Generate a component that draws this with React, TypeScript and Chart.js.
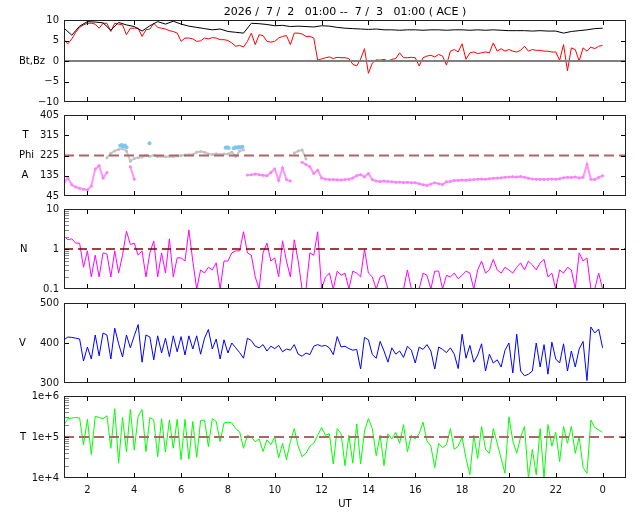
import { useEffect, useRef } from 'react';
import { Chart, registerables } from 'chart.js';

Chart.register(...registerables);
Chart.defaults.font.family = '"DejaVu Sans", sans-serif';

// time axis: hours from 01:00 (day 1) to 01:00 (day 2)
const HOUR_START = 1;
const HOUR_END = 25;
const hourTicks = [2, 4, 6, 8, 10, 12, 14, 16, 18, 20, 22, 24];
const STEP_10MIN = 1 / 6;
const STEP_20MIN = 1 / 3;

// Bt (nT), every 20 min from 01:00
const bt = [
  8.0, 6.3, 8.5, 9.6, 9.5, 9.3, 7.5, 9.4, 8.8, 8.4, 7.3, 8.6,
  9.6, 9.0, 9.7, 9.0, 8.5, 8.2, 7.9, 7.6, 7.8, 7.2, 7.0, 6.8,
  9.2, 9.1, 8.9, 8.6, 8.7, 8.4, 8.5, 8.4, 8.3, 8.6, 8.5, 8.2,
  8.0, 7.9, 7.8, 7.7, 7.8, 7.6, 7.6, 7.5, 7.6, 7.6, 7.5, 7.6,
  7.6, 7.5, 7.6, 7.6, 7.5, 7.6, 7.5, 7.6, 7.5, 7.4, 7.4, 7.4,
  7.3, 7.4, 7.3, 7.3, 6.8, 7.2, 7.4, 7.6, 7.9, 8.0,
];

// Bz (nT), every 10 min from 01:00
const bz = [
  5.2, 4.2, 5.4, 7.0, 8.2, 8.8,
  9.2, 9.2, 9.0, 8.0, 9.2, 9.2,
  7.2, 9.2, 9.0, 8.8, 6.4, 8.0,
  8.0, 8.0, 6.0, 7.6, 7.8, 9.2,
  8.2, 8.0, 7.8, 7.4, 7.2, 6.8,
  4.8, 5.6, 5.6, 5.4, 4.8, 4.9,
  5.6, 5.4, 5.7, 5.6, 5.2, 5.2,
  5.0, 4.4, 3.6, 3.8, 3.4, 4.8,
  6.8, 4.0, 6.4, 6.2, 4.8, 4.6,
  4.8, 5.6, 6.0, 6.2, 4.0, 6.8,
  6.8, 6.6, 6.0, 6.0, 5.6, 0.2,
  0.5, 0.8, 1.0, 0.6, 0.9, 0.8,
  0.8, 0.6, -0.8, -1.2, 0.5, 3.0,
  -3.0, -0.5, 0.3, 0.2, 0.4, 0.0,
  0.4, 0.6, 2.0, 0.8, 0.8, 0.9,
  0.8, -1.2, 0.8, 1.2, 1.4, 1.0,
  1.6, 1.2, -1.0, 2.4, 2.8, 2.2,
  4.2, 0.4, 2.0, 2.2, 1.8, 2.0,
  2.2, 2.0, 4.4, 2.4, 3.0, 2.4,
  2.8, 2.4, 2.2, 2.6, 3.6, 2.4,
  2.8, 2.6, 2.6, 2.4, 2.4, 2.2,
  2.2, 0.2, 4.0, -2.4, 3.2, 2.8,
  0.0, 3.2, 2.4, 3.4, 3.0, 3.6,
  3.8,
];

// A angle (deg), every 10 min from 01:00
const angleA = [
  105, 125, 95, 85, 80, 75,
  72, 90, 165, 180, 125, 150,
  null, null, null, null, null, 175,
  120, null, null, null, null, null,
  null, null, null, null, null, null,
  null, null, null, null, null, null,
  null, null, null, null, null, null,
  null, null, null, null, null, 138,
  140, 143, 140, 137, 135, 150,
  165, 115, 170, 118, 112, null,
  null, 195, 185, 175, 145, 160,
  125, 120, 118, 118, 117, 116,
  118, 120, 125, 135, 140, 130,
  145, 118, 112, 110, 112, 110,
  108, 106, 107, 105, 106, 104,
  104, 100, 95, 92, 98, 104,
  100, 96, 108, 110, 114, 115,
  116, 115, 117, 118, 120, 121,
  120, 122, 124, 125, 126, 128,
  129, 131, 130, 132, 128, 124,
  121, 119, 120, 118, 120, 121,
  120, 122, 126, 128, 127, 130,
  125, 128, 185, 120, 118, 128,
  135,
];

// Phi (deg), every 10 min from 01:00
const phi = [
  null, null, null, null, null, null,
  null, null, null, null, null, 215,
  235, 245, 252, 255, 245, 200,
  212, 215, 218, 225, 222, 226,
  221, 222, 220, 222, 221, 223,
  225, 227, 228, 229, 240, 243,
  240, 232, 230, 233, 230, 232,
  232, 240, 222, 245, 250, null,
  null, null, null, null, null, null,
  null, null, null, null, null, 236,
  245, 250, 210,
];

// Theta-coloured samples (deg)
const blueTimes = [3.4, 3.47, 3.53, 3.6, 3.67, 4.65, 7.9, 7.97, 8.03, 8.25, 8.32, 8.4, 8.47, 8.55, 8.62];
const blueValues = [268, 272, 265, 270, 262, 279, 260, 262, 258, 257, 262, 260, 263, 261, 264];

// density N (/cc), every 10 min from 01:00
const density = [
  2.1, 1.7, 1.8, 1.4, 1.4, 0.35,
  0.9, 0.2, 0.7, 0.2, 0.8, 0.75,
  0.2, 0.9, 0.25, 0.7, 2.8, 1.3,
  1.4, 0.7, 0.9, 0.2, 0.8, 1.6,
  0.2, 0.8, 0.25, 1.8, 0.2, 0.6,
  0.6, 0.5, 3.0, 0.5, 0.1, 0.3,
  0.25, 0.35, 0.3, 0.45, 0.1, 0.5,
  0.5, 0.8, 0.9, 0.9, 2.7, 0.8,
  0.7, 0.2, 0.1, 0.8, 1.4, 0.5,
  0.6, 0.2, 1.6, 0.5, 0.2, 1.7,
  0.5, 0.1, 0.1, 0.8, 0.7, 2.7,
  0.1, 0.2, 0.25, 0.1, 0.28, 0.22,
  0.25, 0.1, 0.28, 0.25, 0.2, 1.0,
  0.25, 0.2, 0.1, 0.2, 0.22, 0.1,
  0.1, 0.1, 0.1, 0.1, 0.3, 0.1,
  0.1, 0.1, 0.25, 0.22, 0.1, 0.28,
  0.28, 0.1, 0.22, 0.2, 0.25, 0.18,
  0.22, 0.28, 0.25, 0.1, 0.3, 0.5,
  0.25, 0.3, 0.55, 0.3, 0.25, 0.35,
  0.3, 0.25, 0.35, 0.45, 0.3, 0.5,
  0.4, 0.3, 0.45, 0.55, 0.2, 0.25,
  0.1, 0.3, 0.25, 0.35, 0.3, 0.1,
  0.8, 0.5, 0.6, 0.1, 0.1, 0.25,
  0.1,
];

// speed V (km/s), every 10 min from 01:00
const speed = [
  408, 415, 414, 412, 410, 355,
  390, 360, 420, 368, 425, 420,
  360, 437, 398, 365, 420, 388,
  418, 446, 352, 420, 415, 358,
  418, 375, 412, 366, 418, 378,
  416, 370, 418, 385, 418, 372,
  412, 434, 385, 410, 360, 408,
  375, 400, 388, 376, 362, 412,
  406, 392, 388, 396, 380, 392,
  386, 394, 378, 385, 382, 396,
  372, 367, 375, 371, 392, 396,
  392, 394, 388, 371, 416, 390,
  392, 386, 382, 384, 335, 414,
  408, 371, 362, 404, 380, 352,
  388, 372, 380, 364, 392, 382,
  350, 390, 384, 396, 380, 335,
  390, 384, 376, 388, 372, 336,
  422, 362, 394, 352, 370, 398,
  330, 372, 350, 358, 340, 382,
  400, 325, 422, 330, 318, 322,
  330, 400, 340, 396, 322, 402,
  360, 350, 398, 330, 380, 340,
  385, 404, 306, 440, 425, 435,
  388,
];

// temperature T (K), every 10 min from 01:00
const temperature = [
  2.0e5, 2.8e5, 2.9e5, 3.0e5, 2.9e5, 6.4e4,
  2.7e5, 3.7e4, 3.2e5, 3.0e5, 2.8e5, 3.3e5,
  5.3e4, 4.9e5, 2.3e4, 3.0e5, 4.4e4, 4.7e5,
  4.8e4, 3.2e5, 4.7e5, 4.4e4, 3.0e5, 2.6e5,
  3.3e4, 2.8e5, 4.3e4, 2.6e5, 5.3e4, 2.7e5,
  2.8e4, 2.7e5, 2.9e4, 2.4e5, 3.2e4, 2.5e5,
  2.6e5, 5.8e4, 2.8e5, 2.4e5, 7.7e4, 2.2e5,
  2.3e5, 2.2e5, 1.6e5, 1.34e5, 5.3e4, 1.1e5,
  1.0e5, 7.7e4, 9.0e4, 4.4e4, 8.5e4, 6.5e4,
  1.0e5, 3.1e4, 7.0e4, 2.8e4, 7.7e4, 1.6e5,
  6.0e4, 3.3e4, 4.0e4, 6.0e4, 7.0e4, 1.1e5,
  1.7e5, 1.1e5, 1.2e5, 2.2e4, 1.6e5, 1.2e5,
  2.0e4, 1.1e5, 2.3e4, 2.1e5, 2.2e4, 1.4e5,
  2.8e5, 1.6e5, 3.5e4, 1.1e5, 2.0e4, 1.2e5,
  9.0e4, 1.3e5, 7.0e4, 2.0e5, 4.4e4, 1.1e5,
  9.0e4, 1.2e5, 2.3e5, 8.0e4, 6.0e4, 1.8e4,
  7.0e4, 5.5e4, 6.5e4, 1.6e5, 5.0e4, 6.0e4,
  1.0e5, 3.0e4, 1.2e4, 1.1e5, 3.0e4, 1.8e5,
  5.0e4, 4.0e4, 1.6e5, 7.0e4, 3.0e4, 1.3e4,
  3.1e5, 8.0e4, 4.0e4, 1.0e5, 1.8e5, 1.0e4,
  5.0e4, 1.2e4, 1.6e5, 1.0e4, 2.0e5, 6.0e4,
  1.3e5, 2.5e4, 1.8e5, 7.0e4, 1.8e5, 4.0e4,
  1.0e5, 1.8e4, 1.3e4, 2.6e5, 1.7e5, 1.5e5,
  1.3e5,
];

const bTicks = [-10, -5, 0, 5, 10];
const bTickLabels = ['\u221210', '\u22125', '0', '5', '10'];
const angleTicks = [45, 135, 225, 315, 405];
const nTicks = [0.1, 1, 10];
const nTickLabels = ['0.1', '1', '10'];
const vTicks = [300, 400, 500];
const tTicks = [1e4, 1e5, 1e6];
const tTickLabels = ['1e+4', '1e+5', '1e+6'];

const TITLE = '2026 /  7 /  2   01:00 --  7 /  3   01:00 ( ACE )';

const pts = (values: (number | null)[], step: number) =>
  values.map((v, i) => ({ x: HOUR_START + i * step, y: v }));
const refLine = (v: number) => [{ x: HOUR_START, y: v }, { x: HOUR_END, y: v }];
const minorLog = (decades: number[]) =>
  decades.flatMap((d) => [2, 3, 4, 5, 6, 7, 8, 9].map((m) => m * d));

const decoPlugin = {
  id: 'deco',
  afterDatasetsDraw(chart: any, _args: any, opts: any) {
    const { ctx, chartArea: a } = chart;
    const x = chart.scales.x;
    const y = chart.scales.y;
    ctx.save();
    if (opts.minor) {
      ctx.strokeStyle = '#888';
      ctx.lineWidth = 1;
      ctx.beginPath();
      for (const v of opts.minor) {
        const py = Math.round(y.getPixelForValue(v)) + 0.5;
        ctx.moveTo(a.left, py);
        ctx.lineTo(a.left + 5, py);
      }
      ctx.stroke();
    }
    ctx.strokeStyle = '#000';
    ctx.lineWidth = 1;
    ctx.beginPath();
    for (const h of hourTicks) {
      const px = Math.round(x.getPixelForValue(h)) + 0.5;
      ctx.moveTo(px, a.top);
      ctx.lineTo(px, a.top + 5);
      ctx.moveTo(px, a.bottom);
      ctx.lineTo(px, a.bottom - 5);
    }
    for (const v of opts.inner) {
      const py = Math.round(y.getPixelForValue(v)) + 0.5;
      ctx.moveTo(a.left, py);
      ctx.lineTo(a.left + 5, py);
      ctx.moveTo(a.right, py);
      ctx.lineTo(a.right - 5, py);
    }
    ctx.stroke();
    ctx.strokeStyle = '#222';
    ctx.strokeRect(a.left + 0.5, a.top + 0.5, a.right - a.left - 1, a.bottom - a.top - 1);

    ctx.fillStyle = '#000';
    ctx.textBaseline = 'middle';
    ctx.textAlign = 'left';
    ctx.font = '10px "DejaVu Sans"';
    for (const l of opts.labels) {
      ctx.fillText(l.text, l.x, y.getPixelForValue(l.value));
    }
    ctx.textAlign = 'center';
    if (opts.title) {
      ctx.font = '11px "DejaVu Sans"';
      ctx.fillText(opts.title, (a.left + a.right) / 2, a.top - 8);
    }
    if (opts.xTitle) {
      ctx.font = '10px "DejaVu Sans"';
      ctx.fillText(opts.xTitle, (a.left + a.right) / 2, a.bottom + 26);
    }
    ctx.restore();
  },
};

interface PanelSpec {
  areaTop: number;
  areaHeight: number;
  padTop: number;
  padBottom: number;
  bottomAxis?: boolean;
  yType: 'linear' | 'logarithmic';
  yMin: number;
  yMax: number;
  yTicks: number[];
  yTickLabels?: string[];
  inner: number[];
  minor?: number[];
  labels: { text: string; value: number; x: number }[];
  title?: string;
  datasets: any[];
}

const tickFont = { family: '"DejaVu Sans"', size: 10 };

function makeConfig(p: PanelSpec): any {
  return {
    type: 'line',
    data: { datasets: p.datasets },
    plugins: [decoPlugin],
    options: {
      responsive: false,
      animation: false,
      events: [],
      layout: { padding: { top: p.padTop, bottom: p.bottomAxis ? 0 : p.padBottom, left: 0, right: 14 } },
      elements: { line: { tension: 0 } },
      plugins: {
        legend: { display: false },
        tooltip: { enabled: false },
        deco: { inner: p.inner, minor: p.minor, labels: p.labels, title: p.title, xTitle: p.bottomAxis ? 'UT' : '' },
      },
      scales: {
        x: {
          type: 'linear',
          min: HOUR_START,
          max: HOUR_END,
          display: !!p.bottomAxis,
          afterBuildTicks: (s: any) => {
            s.ticks = hourTicks.map((v) => ({ value: v }));
          },
          afterFit: (s: any) => {
            s.height = p.bottomAxis ? p.padBottom : 0;
          },
          ticks: {
            padding: 6,
            color: '#111',
            font: tickFont,
            maxRotation: 0,
            autoSkip: false,
            callback: (v: number) => String(v % 24),
          },
          grid: { display: false, drawTicks: false },
          border: { display: false },
        },
        y: {
          type: p.yType,
          min: p.yMin,
          max: p.yMax,
          afterBuildTicks: (s: any) => {
            s.ticks = p.yTicks.map((v) => ({ value: v }));
          },
          afterFit: (s: any) => {
            s.width = 64;
          },
          ticks: {
            padding: 5,
            color: '#111',
            font: tickFont,
            autoSkip: false,
            callback: (v: number, i: number) => (p.yTickLabels ? p.yTickLabels[i] : String(v)),
          },
          grid: { display: false, drawTicks: false },
          border: { display: false },
        },
      },
    },
  };
}

const thin = { pointRadius: 0, borderWidth: 1, spanGaps: false };

const panels: PanelSpec[] = [
  {
    areaTop: 20, areaHeight: 83, padTop: 20, padBottom: 10,
    yType: 'linear', yMin: -10, yMax: 10, yTicks: bTicks, yTickLabels: bTickLabels,
    inner: [-5, 0, 5],
    labels: [{ text: 'Bt,Bz', value: 0, x: 19 }],
    title: TITLE,
    datasets: [
      { data: refLine(0), borderColor: '#808080', borderWidth: 2, pointRadius: 0 },
      { data: pts(bt, STEP_20MIN), borderColor: '#000000', ...thin },
      { data: pts(bz, STEP_10MIN), borderColor: '#ff0000', ...thin },
    ],
  },
  {
    areaTop: 114, areaHeight: 83, padTop: 10, padBottom: 10,
    yType: 'linear', yMin: 45, yMax: 405, yTicks: angleTicks,
    inner: [135, 225, 315],
    labels: [
      { text: 'T', value: 315, x: 22.5 },
      { text: 'Phi', value: 225, x: 19 },
      { text: 'A', value: 135, x: 21.5 },
    ],
    datasets: [
      { data: refLine(225), borderColor: '#b06464', borderWidth: 2, borderDash: [10, 5], pointRadius: 0 },
      { data: blueTimes.map((t, i) => ({ x: t, y: blueValues[i] })), showLine: false, pointRadius: 2, pointBorderWidth: 0, pointBackgroundColor: '#7cc6f0' },
      { data: pts(phi, STEP_10MIN), borderColor: 'rgba(195,195,195,0.9)', borderWidth: 2, pointRadius: 1.5, pointBorderWidth: 0, pointBackgroundColor: '#c0c0c0', spanGaps: false },
      { data: pts(angleA, STEP_10MIN), borderColor: 'rgba(255,128,255,0.85)', borderWidth: 2, pointRadius: 1.5, pointBorderWidth: 0, pointBackgroundColor: '#ff80ff', spanGaps: false },
    ],
  },
  {
    areaTop: 208, areaHeight: 82, padTop: 10, padBottom: 10,
    yType: 'logarithmic', yMin: 0.1, yMax: 10, yTicks: nTicks, yTickLabels: nTickLabels,
    inner: [1], minor: minorLog([0.1, 1]),
    labels: [{ text: 'N', value: 1, x: 20 }],
    datasets: [
      { data: refLine(1), borderColor: '#800000', borderWidth: 1.5, borderDash: [9, 5], pointRadius: 0 },
      { data: pts(density, STEP_10MIN), borderColor: '#ff00ff', ...thin },
    ],
  },
  {
    areaTop: 302, areaHeight: 82, padTop: 10, padBottom: 10,
    yType: 'linear', yMin: 300, yMax: 500, yTicks: vTicks,
    inner: [400],
    labels: [{ text: 'V', value: 400, x: 19 }],
    datasets: [
      { data: pts(speed, STEP_10MIN), borderColor: '#0000ff', ...thin },
    ],
  },
  {
    areaTop: 395, areaHeight: 83, padTop: 10, padBottom: 34, bottomAxis: true,
    yType: 'logarithmic', yMin: 1e4, yMax: 1e6, yTicks: tTicks, yTickLabels: tTickLabels,
    inner: [1e5], minor: minorLog([1e4, 1e5]),
    labels: [{ text: 'T', value: 1e5, x: 20 }],
    datasets: [
      { data: refLine(1e5), borderColor: '#b06464', borderWidth: 2, borderDash: [10, 5], pointRadius: 0 },
      { data: pts(temperature, STEP_10MIN), borderColor: '#00ff00', ...thin },
    ],
  },
];

function Panel({ spec }: { spec: PanelSpec }) {
  const canvasRef = useRef<HTMLCanvasElement>(null);
  const h = spec.areaHeight + spec.padTop + spec.padBottom;

  useEffect(() => {
    const chart = new Chart(canvasRef.current!, makeConfig(spec));
    return () => {
      chart.destroy();
    };
  }, [spec]);

  return (
    <canvas
      ref={canvasRef}
      width={640}
      height={h}
      style={{ position: 'absolute', left: 0, top: spec.areaTop - spec.padTop, width: 640, height: h }}
    />
  );
}

export default function App() {
  return (
    <div style={{ position: 'absolute', left: 0, top: 0, width: 640, height: 512, background: '#fff' }}>
      {panels.map((p, i) => (
        <Panel key={i} spec={p} />
      ))}
    </div>
  );
}
